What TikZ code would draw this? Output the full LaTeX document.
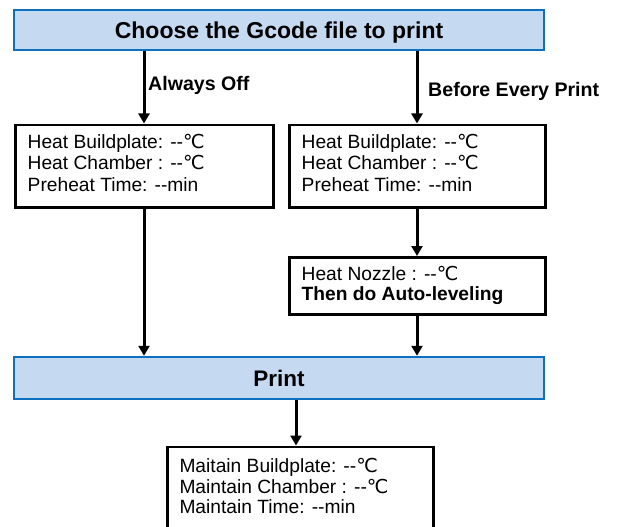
\documentclass[tikz,border=0pt]{standalone}
\usepackage{fontspec}
\setmainfont{Liberation Sans}
\newfontfamily\dejavu{DejaVu Sans}
\usetikzlibrary{arrows.meta}
\definecolor{boxfill}{HTML}{C5D9F1}
\definecolor{boxline}{HTML}{0E70C0}
\newcommand\degc{{\dejavu ℃}}
\newcommand\dd{-\kern0pt-}
\begin{document}
\begin{tikzpicture}[x=1pt,y=-1pt,
  bluebox/.style={draw=boxline,fill=boxfill,line width=2.5pt,minimum width=530pt,inner sep=0pt,
     text height=16.4pt,text depth=0pt,font=\fontsize{22.5}{26}\selectfont\bfseries},
  txtbox/.style={draw=black,line width=2.5pt,inner sep=0pt,anchor=north west},
  txt/.style={anchor=base west,align=left,inner sep=0pt,font=\fontsize{19.2}{21.6}\selectfont},
  arr/.style={line width=3pt,-{Triangle[length=10pt,width=11pt]}},
  lbl/.style={font=\fontsize{19.6}{22}\selectfont\bfseries,inner sep=0pt,anchor=base west}]
\useasboundingbox (0,0) rectangle (619,527);
\node[bluebox,minimum height=40pt,font=\fontsize{23}{26}\selectfont\bfseries] (top) at (279,30) {Choose the Gcode file to print};
\node[bluebox,minimum height=42pt] (print) at (279,378) {Print};
% boxes
\node[txtbox,minimum width=258pt,minimum height=82.5pt] (lb) at (14,123.5) {};
\node[txtbox,minimum width=256pt,minimum height=82.5pt] (rb) at (288,123.5) {};
\node[txtbox,minimum width=256pt,minimum height=57pt] (nb) at (288,256) {};
\node[txtbox,minimum width=266pt,minimum height=100pt] (bb) at (166,445.5) {};
\node[txt] (lt) at (27.5,191.5) {Heat Buildplate: \dd\degc\\Heat Chamber : \dd\degc\\Preheat Time: \dd min};
\node[txt] (rt) at (301.5,191.5) {Heat Buildplate: \dd\degc\\Heat Chamber : \dd\degc\\Preheat Time: \dd min};
\node[txt,font=\fontsize{19.2}{20.3}\selectfont] (nt) at (301.5,300.3) {Heat Nozzle : \dd\degc\\\textbf{Then do Auto-leveling}};
\node[txt,font=\fontsize{19.2}{20.5}\selectfont] (bt) at (179.3,513.7) {Maitain Buildplate: \dd\degc\\Maintain Chamber : \dd\degc\\Maintain Time: \dd min};
% arrows
\coordinate (la) at (144,0);
\coordinate (ra) at (417,0);
\coordinate (ca) at (296,0);
\draw[arr] (top.south -| la) -- (lb.north -| la);
\draw[arr] (top.south -| ra) -- (rb.north -| ra);
\node[lbl] (l1) at (148,90.5) {Always Off};
\node[lbl] (l2) at (428,96) {Before Every Print};
\draw[arr] (lb.south -| la) -- (print.north -| la);
\draw[arr] (rb.south -| ra) -- (nb.north -| ra);
\draw[arr] (nb.south -| ra) -- (print.north -| ra);
\draw[arr] (print.south -| ca) -- (bb.north -| ca);
\end{tikzpicture}
\end{document}
